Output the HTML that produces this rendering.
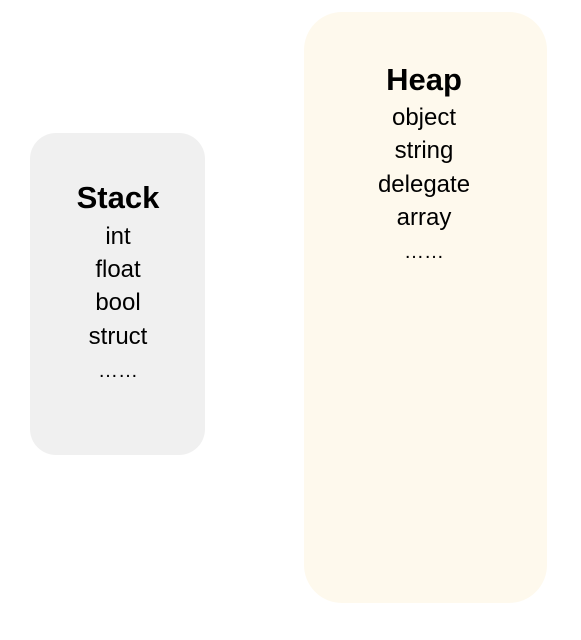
<!DOCTYPE html>
<html><head><meta charset="utf-8"><style>
html,body{margin:0;padding:0;background:#fff;width:581px;height:640px;overflow:hidden}
</style></head><body>
<svg width="581" height="640" viewBox="0 0 581 640" xmlns="http://www.w3.org/2000/svg" font-family="'Liberation Sans', sans-serif" fill="#000" text-anchor="middle">
<rect x="30" y="133" width="175" height="322" rx="26" fill="#f0f0f0"/>
<rect x="304" y="12" width="243" height="591" rx="38" fill="#fef9ed"/>
<text x="118" y="208" font-size="31" font-weight="bold">Stack</text>
<g font-size="24">
<text x="118" y="244">int</text>
<text x="118" y="277">float</text>
<text x="118" y="310">bool</text>
<text x="118" y="344">struct</text>
<text x="118" y="377" font-size="20">……</text>
</g>
<text x="424" y="90" font-size="31" font-weight="bold">Heap</text>
<g font-size="24">
<text x="424" y="125">object</text>
<text x="424" y="158">string</text>
<text x="424" y="192">delegate</text>
<text x="424" y="225">array</text>
<text x="424" y="258" font-size="20">……</text>
</g>
</svg>
</body></html>
